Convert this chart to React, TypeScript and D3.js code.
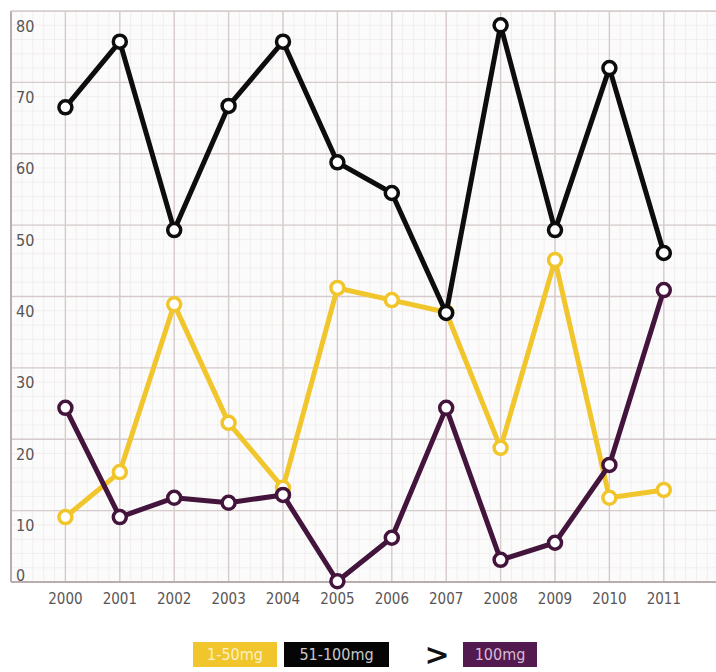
import React from "react";
import * as d3 from "d3";

const years = ["2000","2001","2002","2003","2004","2005","2006","2007","2008","2009","2010","2011"];
const dose1to50 = [9.1, 15.4, 38.9, 22.3, 13.2, 41.2, 39.5, 37.8, 18.8, 45.1, 11.8, 12.9];
const dose51to100 = [66.5, 75.7, 49.3, 66.7, 75.7, 58.8, 54.5, 37.7, 78.0, 49.3, 72.0, 46.1];
const doseOver100 = [24.4, 9.1, 11.8, 11.1, 12.2, 0.1, 6.2, 24.4, 3.1, 5.5, 16.4, 40.9];
const yTicks = [0, 10, 20, 30, 40, 50, 60, 70, 80];

const W = 716;
const H = 672;

const series = [
  { name: "1-50mg", values: dose1to50, color: "#f1c52c" },
  { name: ">100mg", values: doseOver100, color: "#44153c" },
  { name: "51-100mg", values: dose51to100, color: "#0d0d0d" },
];

export default function App() {
  const x = d3.scaleLinear().domain([-1, 0]).range([11, 65.4]);
  const y = d3.scaleLinear().domain([0, 80]).range([582, 11]);
  const line = d3
    .line<number>()
    .x((_, i) => x(i))
    .y((d) => y(d));

  const vMajor = d3.range(-1, 13);
  const vMinor = d3.range(-1, 13, 0.2);
  const hMajor = d3.range(0, 81, 10);
  const hMinor = d3.range(0, 80.01, 2);
  const plotLeft = x(-1);
  const plotTop = y(80);
  const plotBottom = y(0);

  const font = "'Liberation Sans Narrow', 'DejaVu Sans Condensed', 'DejaVu Sans', sans-serif";

  return (
    <svg
      width={W}
      height={H}
      style={{ position: "absolute", left: 0, top: 0, background: "#ffffff" }}
    >
      <defs>
        <clipPath id="plotclip">
          <rect x={plotLeft} y={plotTop} width={W - plotLeft} height={plotBottom - plotTop} />
        </clipPath>
      </defs>
      <g clipPath="url(#plotclip)">
        <rect x={plotLeft} y={plotTop} width={W - plotLeft} height={plotBottom - plotTop} fill="#fcfbfb" />
        {vMinor.map((v, i) => (
          <line key={"vm" + i} x1={x(v)} x2={x(v)} y1={plotTop} y2={plotBottom} stroke="#f0ebeb" strokeWidth={0.8} />
        ))}
        {hMinor.map((v, i) => (
          <line key={"hm" + i} x1={plotLeft} x2={W} y1={y(v)} y2={y(v)} stroke="#f0ebeb" strokeWidth={0.8} />
        ))}
        {vMajor.map((v, i) => (
          <line key={"vM" + i} x1={x(v)} x2={x(v)} y1={plotTop} y2={plotBottom} stroke="#d6cbcb" strokeWidth={1.4} />
        ))}
        {hMajor.map((v, i) => (
          <line key={"hM" + i} x1={plotLeft} x2={W} y1={y(v)} y2={y(v)} stroke="#d6cbcb" strokeWidth={1.4} />
        ))}
      </g>
      <line x1={plotLeft} x2={plotLeft} y1={plotTop} y2={plotBottom} stroke="#b9adad" strokeWidth={2} />
      <line x1={plotLeft} x2={W} y1={plotBottom} y2={plotBottom} stroke="#b9adad" strokeWidth={2} />
      <line x1={plotLeft} x2={W} y1={plotTop} y2={plotTop} stroke="#d6cbcb" strokeWidth={1.5} />

      {yTicks.map((v) => (
        <text
          key={"yt" + v}
          x={16}
          y={v === 0 ? y(v) - 6 : y(v) + 16}
          dominantBaseline="middle"
          fontFamily={font}
          fontSize={16}
          fill="#595555"
        >
          {v}
        </text>
      ))}
      {years.map((yr, i) => (
        <text
          key={"xt" + yr}
          x={x(i)}
          y={plotBottom + 17}
          textAnchor="middle"
          dominantBaseline="middle"
          fontFamily={font}
          fontSize={15}
          fill="#595555"
        >
          {yr}
        </text>
      ))}

      {series.map((s) => (
        <g key={s.name}>
          <path d={line(s.values) || ""} fill="none" stroke={s.color} strokeWidth={5} strokeLinejoin="round" />
          {s.values.map((v, i) => (
            <circle key={i} cx={x(i)} cy={y(v)} r={6.5} fill="#ffffff" stroke={s.color} strokeWidth={3.5} />
          ))}
        </g>
      ))}

      <g fontFamily={font} fontSize={16}>
        <rect x={193} y={642} width={84} height={25} fill="#f1c52c" />
        <text x={235} y={655} textAnchor="middle" dominantBaseline="middle" fill="#fbf0c8">1-50mg</text>
        <rect x={284} y={642} width={105} height={25} fill="#050505" />
        <text x={336.5} y={655} textAnchor="middle" dominantBaseline="middle" fill="#c9c9c9">51-100mg</text>
        <text x={437} y={656} textAnchor="middle" dominantBaseline="middle" fill="#111" fontSize={30} fontWeight="bold" fontFamily="'DejaVu Sans', sans-serif">&gt;</text>
        <rect x={463} y={642} width={74} height={25} fill="#521a4f" />
        <text x={500} y={655} textAnchor="middle" dominantBaseline="middle" fill="#d9bcd6">100mg</text>
      </g>
    </svg>
  );
}
